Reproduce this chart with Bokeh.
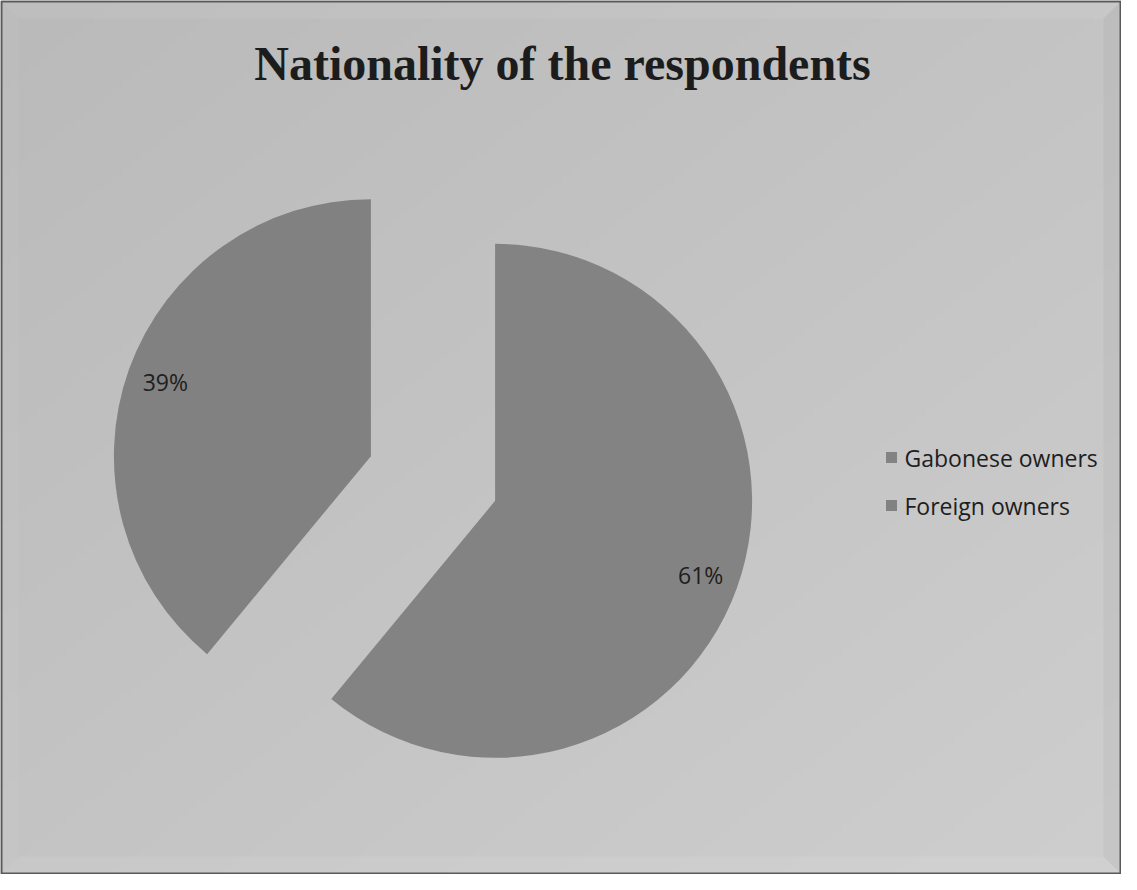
import numpy as np
from bokeh.plotting import figure
from bokeh.models import Range1d
from bokeh.core.properties import value
from bokeh.embed import file_html
from bokeh.resources import INLINE

# ---- data ----
categories = ["Gabonese owners", "Foreign owners"]
shares = [61, 39]
pct_labels = ["61%", "39%"]
slice_colors = ["#838383", "#818181"]
title_text = "Nationality of the respondents"

# ---- canvas ----
W, H = 1121, 874
p = figure(width=W, height=H, x_range=Range1d(0, W), y_range=Range1d(0, H),
           output_backend="svg", toolbar_location=None, min_border=0,
           x_axis_location=None, y_axis_location=None)
p.grid.visible = False
p.outline_line_color = None
p.background_fill_color = "#c4c4c4"
p.border_fill_color = "#ffffff"

# background gradient (light grey, lighter towards bottom-right)
n = 120
u = np.linspace(0, 1, n)[None, :]
v = np.linspace(0, 1, n)[:, None]       # v=0 bottom, v=1 top
t = (u + (1 - v)) / 2
g = (186 + 20 * t).astype(np.uint8)
img = np.empty((n, n), dtype=np.uint32)
view = img.view(dtype=np.uint8).reshape((n, n, 4))
view[:, :, 0] = g
view[:, :, 1] = g
view[:, :, 2] = g
view[:, :, 3] = 255
p.image_rgba(image=[img], x=0, y=0, dw=W, dh=H)

# bevel frame
b = 18
bevel_xs = [[0, W, W - b, b], [W, W, W - b, W - b], [0, W, W - b, b], [0, 0, b, b]]
bevel_ys = [[H, H, H - b, H - b], [H, 0, b, H - b], [0, 0, b, b], [H, 0, b, H - b]]
bevel_cols = ["#ffffff", "#000000", "#ffffff", "#ffffff"]
bevel_alpha = [0.07, 0.03, 0.08, 0.04]
p.patches(xs=bevel_xs, ys=bevel_ys, fill_color=bevel_cols, fill_alpha=bevel_alpha, line_color=None)
p.quad(left=1, right=W - 1, bottom=1, top=H - 1, fill_color=None, line_color="#5a5a5a", line_width=2)

# ---- pie ----
cx, cy, r, explode = 432.5, 396.0, 257.0, 66.0
fr = np.array(shares, dtype=float) / sum(shares)
cum = np.cumsum(fr)
start_frac = cum - fr
start_angle = np.pi / 2 - 2 * np.pi * cum
end_angle = np.pi / 2 - 2 * np.pi * start_frac
mid = np.pi / 2 - 2 * np.pi * (start_frac + fr / 2)
wx = cx + explode * np.cos(mid)
wy = cy + explode * np.sin(mid)

p.wedge(x=list(wx), y=list(wy), radius=r, start_angle=list(start_angle), end_angle=list(end_angle),
        fill_color=slice_colors, line_color=None)

lx = wx + 0.85 * r * np.cos(mid)
ly = wy + 0.85 * r * np.sin(mid)
p.text(x=list(lx), y=list(ly), text=pct_labels, text_align="center", text_baseline="middle",
       text_font=value("Open Sans"), text_font_size="23px", text_color="#1e1e1e")

# ---- title ----
p.text(x=[562], y=[811], text=[title_text], text_align="center", text_baseline="alphabetic",
       text_font=value("Liberation Serif"), text_font_style="bold", text_font_size="48px",
       text_color="#1c1c1c")

# ---- legend ----
leg_x, leg_y0, leg_step = 891, 417, 48
ly_leg = [leg_y0 - i * leg_step for i in range(len(categories))]
p.scatter(x=[leg_x] * len(categories), y=ly_leg, marker="square", size=11,
          fill_color=slice_colors, line_color=None)
p.text(x=[leg_x + 13] * len(categories), y=ly_leg, text=categories, text_align="left",
       text_baseline="middle", text_font=value("Open Sans"), text_font_size="23px",
       text_color="#1e1e1e")

open("out.html", "w").write(file_html(p, INLINE))
